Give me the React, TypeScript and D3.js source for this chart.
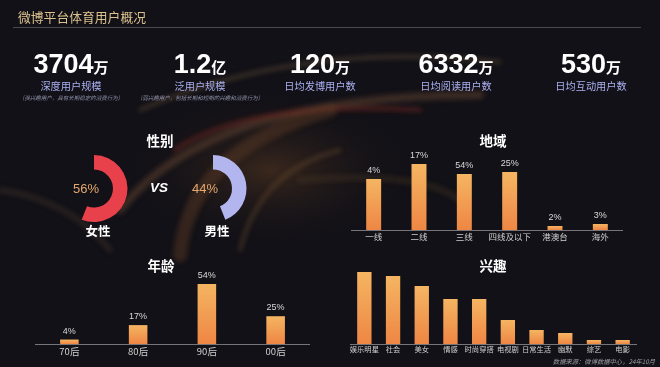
import React from 'react';
import * as d3 from 'd3';

const W = 660;
const H = 367;

// top stats
const statValues = ['3704', '1.2', '120', '6332', '530'];
const statUnits = ['万', '亿', '万', '万', '万'];
const statLabels = ['深度用户规模', '泛用户规模', '日均发博用户数', '日均阅读用户数', '日均互动用户数'];
const statNotes = ['（强兴趣用户，具有长期稳定的消费行为）', '（弱兴趣用户，包括长期和短期的兴趣和消费行为）', '', '', ''];
const statCenters = [71, 200, 320, 456, 591];

// gender
const genderNames = ['女性', '男性'];
const genderShares = [0.56, 0.44];
const genderLabels = ['56%', '44%'];

// region (bar heights as drawn, labels as printed)
const regionCats = ['一线', '二线', '三线', '四线及以下', '港澳台', '海外'];
const regionBars = [51, 66, 56, 58, 4, 6];
const regionLabels = ['4%', '17%', '54%', '25%', '2%', '3%'];

// age
const ageCats = ['70后', '80后', '90后', '00后'];
const ageValues = [4, 17, 54, 25];
const ageLabels = ['4%', '17%', '54%', '25%'];

// interests
const interestCats = ['娱乐明星', '社会', '美女', '情感', '时尚穿搭', '电视剧', '日常生活', '幽默', '综艺', '电影'];
const interestValues = [72, 68, 58, 45, 45, 24, 14, 11, 4, 4];

const CJK = '"Noto Sans CJK SC", "Noto Sans", sans-serif';
const NUM = '"Liberation Sans", Arial, "Noto Sans CJK SC", sans-serif';

function BarChart({cats, values, labels, x0, x1, base, maxH, pad, title, titleX, titleY, fontSize}: any) {
  const x = d3.scaleBand().domain(cats).range([x0, x1]).paddingInner(pad).paddingOuter(pad / 2);
  const y = d3.scaleLinear().domain([0, d3.max(values) as number]).range([base, base - maxH]);
  return (
    <g>
      <text x={titleX} y={titleY} fill="#fff" fontSize={13.5} fontWeight="bold" textAnchor="middle" fontFamily={CJK}>{title}</text>
      {cats.map((c: string, i: number) => (
        <g key={c}>
          <rect x={x(c)} y={y(values[i])} width={x.bandwidth()} height={base - y(values[i])} fill="url(#barGrad)" />
          {labels && (
            <text x={(x(c) as number) + x.bandwidth() / 2} y={y(values[i]) - 6} fill="#d8d8d8" fontSize={9} textAnchor="middle" fontFamily={NUM}>{labels[i]}</text>
          )}
          <text x={(x(c) as number) + x.bandwidth() / 2} y={base + fontSize + 1} fill="#cfcfcf" fontSize={fontSize} textAnchor="middle" fontFamily={CJK}>{c}</text>
        </g>
      ))}
      <line x1={x0} x2={x1} y1={base + 0.5} y2={base + 0.5} stroke="#77757a" strokeWidth={1.2} />
    </g>
  );
}

export default function App() {
  const arc = d3.arc<any>().innerRadius(19).outerRadius(33.5);
  const donutX = [94, 213];
  const donutColors = ['#e8414b', '#b3b6ee'];

  return (
    <svg width={W} height={H} style={{position: 'absolute', left: 0, top: 0, background: '#121117'}}>
      <defs>
        <linearGradient id="barGrad" x1="0" y1="0" x2="0" y2="1">
          <stop offset="0%" stopColor="#f5b562" />
          <stop offset="100%" stopColor="#ee8644" />
        </linearGradient>
        <radialGradient id="glow" cx="0.5" cy="0.5" r="0.5">
          <stop offset="0%" stopColor="#5a3a22" stopOpacity={0.55} />
          <stop offset="100%" stopColor="#121117" stopOpacity={0} />
        </radialGradient>
        <filter id="blur"><feGaussianBlur stdDeviation="2.5" /></filter>
      </defs>
      <rect width={W} height={H} fill="#121117" />

      {/* decorative swirl */}
      <ellipse cx={270} cy={170} rx={150} ry={80} fill="url(#glow)" />
      <g filter="url(#blur)" fill="none" strokeLinecap="round">
        <path d="M140,110 Q300,40 500,62" stroke="#8a6a48" strokeWidth={3} opacity={0.45} />
        <path d="M120,210 Q210,95 480,95" stroke="#6e4a30" strokeWidth={8} opacity={0.45} />
        <path d="M175,150 Q250,100 420,110" stroke="#8a2a22" strokeWidth={4} opacity={0.5} />
        <path d="M180,255 Q190,150 330,110" stroke="#5e3c26" strokeWidth={14} opacity={0.45} />
        <path d="M240,250 Q260,170 340,150" stroke="#7a5534" strokeWidth={3} opacity={0.5} />
        <path d="M0,190 Q70,200 110,250" stroke="#5a4430" strokeWidth={5} opacity={0.35} />
        <path d="M300,180 Q420,170 460,200" stroke="#4a3424" strokeWidth={6} opacity={0.4} />
      </g>

      {/* header */}
      <text x={18} y={21.5} fill="#dcc28e" fontSize={12.8} fontFamily={CJK}>微博平台体育用户概况</text>
      <line x1={13} x2={641} y1={27.5} y2={27.5} stroke="#4a4850" strokeWidth={1} />

      {/* stats */}
      {statValues.map((v, i) => (
        <g key={i}>
          <text x={statCenters[i]} y={72.5} textAnchor="middle" fill="#fff" fontFamily={NUM}>
            <tspan fontSize={27} fontWeight="bold">{v}</tspan>
            <tspan fontSize={15} fontFamily={CJK} fontWeight="bold">{statUnits[i]}</tspan>
          </text>
          <text x={statCenters[i]} y={90} textAnchor="middle" fill="#aab0f0" fontSize={10.2} fontFamily={CJK}>{statLabels[i]}</text>
          {statNotes[i] && (
            <text x={statCenters[i]} y={99.5} textAnchor="middle" fill="#8c8ea8" fontSize={5.5} fontStyle="italic" fontFamily={CJK}>{statNotes[i]}</text>
          )}
        </g>
      ))}

      {/* gender */}
      <text x={160} y={146} fill="#fff" fontSize={13.5} fontWeight="bold" textAnchor="middle" fontFamily={CJK}>性别</text>
      {genderShares.map((s, i) => (
        <g key={i} transform={`translate(${donutX[i]},188.5)`}>
          <path d={arc({startAngle: 0, endAngle: s * 2 * Math.PI}) as string} fill={donutColors[i]} />
          <text x={-8} y={4.5} textAnchor="middle" fill="#e3a86e" fontSize={13} fontFamily={NUM}>{genderLabels[i]}</text>
          <text x={4} y={47} textAnchor="middle" fill="#fff" fontSize={12.5} fontWeight="bold" fontFamily={CJK}>{genderNames[i]}</text>
        </g>
      ))}
      <text x={159} y={192} fill="#fff" fontSize={13.5} fontStyle="italic" fontWeight="bold" textAnchor="middle" fontFamily={NUM}>VS</text>

      <BarChart cats={regionCats} values={regionBars} labels={regionLabels} x0={351} x1={623} base={230} maxH={66} pad={0.67}
        title="地域" titleX={493} titleY={146} fontSize={8.5} />
      <BarChart cats={ageCats} values={ageValues} labels={ageLabels} x0={35} x1={310} base={344} maxH={60} pad={0.73}
        title="年龄" titleX={161} titleY={271} fontSize={9.5} />
      <BarChart cats={interestCats} values={interestValues} labels={null} x0={350} x1={637} base={344} maxH={72} pad={0.5}
        title="兴趣" titleX={493} titleY={271} fontSize={7.3} />

      <text x={655} y={363.5} textAnchor="end" fill="#9a9aa4" fontSize={6.3} fontStyle="italic" fontFamily={CJK}>数据来源：微博数据中心，24年10月</text>
    </svg>
  );
}
